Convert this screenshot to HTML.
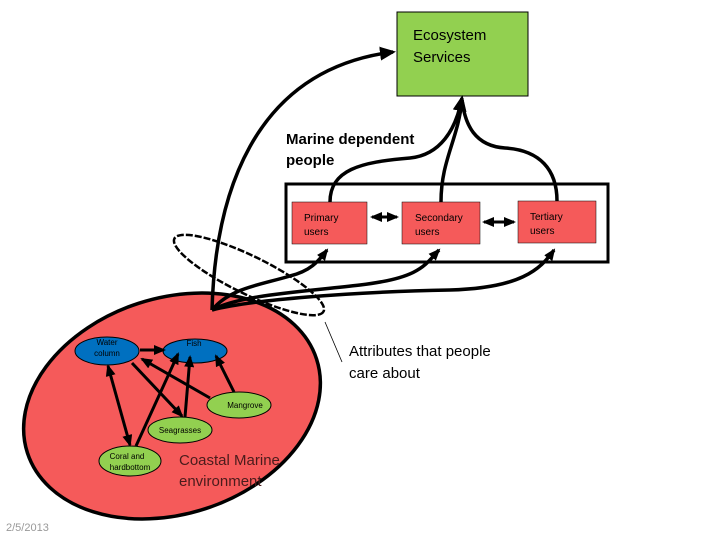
<!DOCTYPE html>
<html><head><style>
body{margin:0;background:#fff;}
svg text{font-family:"Liberation Sans",sans-serif;}
</style></head><body>
<svg width="720" height="540" viewBox="0 0 720 540" xmlns="http://www.w3.org/2000/svg">
<defs>
<marker id="a" markerWidth="12" markerHeight="10" refX="10" refY="5" orient="auto" markerUnits="userSpaceOnUse"><path d="M0,0 L12,5 L0,10 Z" fill="#000"/></marker>
<marker id="s" markerWidth="12" markerHeight="10" refX="2" refY="5" orient="auto" markerUnits="userSpaceOnUse"><path d="M12,0 L0,5 L12,10 Z" fill="#000"/></marker>
<marker id="b" markerWidth="16" markerHeight="14" refX="13" refY="7" orient="auto" markerUnits="userSpaceOnUse"><path d="M0,0 L16,7 L0,14 Z" fill="#000"/></marker>
</defs>
<ellipse cx="172" cy="406" rx="152" ry="108" transform="rotate(-18 172 406)" fill="#f55a5a" stroke="#000" stroke-width="3.5"/>
<rect x="397" y="12" width="131" height="84" fill="#92d050" stroke="#000" stroke-width="1"/>
<text x="413" y="40" font-size="15">Ecosystem</text>
<text x="413" y="62" font-size="15">Services</text>
<text x="286" y="144" font-size="15" font-weight="bold">Marine dependent</text>
<text x="286" y="165" font-size="15" font-weight="bold">people</text>
<rect x="286" y="184" width="322" height="78" fill="none" stroke="#000" stroke-width="3"/>
<rect x="292" y="202" width="75" height="42" fill="#f55a5a" stroke="#000" stroke-width="0.5"/>
<rect x="402" y="202" width="78" height="42" fill="#f55a5a" stroke="#000" stroke-width="0.5"/>
<rect x="518" y="201" width="78" height="42" fill="#f55a5a" stroke="#000" stroke-width="0.5"/>
<text x="304" y="221" font-size="10">Primary</text><text x="304" y="235" font-size="10">users</text>
<text x="415" y="221" font-size="10">Secondary</text><text x="415" y="235" font-size="10">users</text>
<text x="530" y="220" font-size="10">Tertiary</text><text x="530" y="234" font-size="10">users</text>
<g stroke="#000" stroke-width="3.5" fill="none">
<line x1="372" y1="217" x2="397" y2="217" marker-start="url(#s)" marker-end="url(#a)" stroke-width="3"/>
<line x1="484" y1="222" x2="514" y2="222" marker-start="url(#s)" marker-end="url(#a)" stroke-width="3"/>
<path d="M330,202 C330,170 360,162 410,158 C440,155 456,130 462,98" marker-end="url(#b)"/>
<path d="M441,202 C441,160 458,140 462,100"/>
<path d="M557,201 C557,170 540,150 505,148 C475,146 465,125 462,100"/>
<path d="M212,310 C215,200 250,70 393,52" marker-end="url(#b)"/>
<path d="M212,310 C230,288 260,285 290,276 C310,271 318,262 327,250" marker-end="url(#a)"/>
<path d="M212,310 C240,295 300,292 360,285 C420,278 425,265 439,250" marker-end="url(#a)"/>
<path d="M212,310 C250,300 350,292 450,290 C520,288 540,270 554,250" marker-end="url(#a)"/>
</g>
<ellipse cx="249" cy="275" rx="83" ry="19" transform="rotate(26 249 275)" fill="none" stroke="#000" stroke-width="2.5" stroke-dasharray="7,2"/>
<line x1="325" y1="322" x2="342" y2="362" stroke="#000" stroke-width="0.8"/>
<text x="349" y="356" font-size="15">Attributes that people</text>
<text x="349" y="378" font-size="15">care about</text>
<ellipse cx="107" cy="351" rx="32" ry="14" fill="#0070c0" stroke="#000" stroke-width="1"/>
<ellipse cx="195" cy="351" rx="32" ry="12" fill="#0070c0" stroke="#000" stroke-width="1"/>
<ellipse cx="239" cy="405" rx="32" ry="13" fill="#92d050" stroke="#000" stroke-width="1"/>
<ellipse cx="180" cy="430" rx="32" ry="13" fill="#92d050" stroke="#000" stroke-width="1"/>
<ellipse cx="130" cy="461" rx="31" ry="15" fill="#92d050" stroke="#000" stroke-width="1"/>
<g stroke="#000" stroke-width="3" fill="none">
<line x1="140" y1="350" x2="164" y2="350" marker-end="url(#a)"/>
<line x1="108" y1="366" x2="130" y2="445" marker-start="url(#s)" marker-end="url(#a)"/>
<line x1="136" y1="446" x2="178" y2="354" marker-end="url(#a)"/>
<line x1="185" y1="417" x2="190" y2="357" marker-end="url(#a)"/>
<line x1="182" y1="416" x2="132" y2="363" marker-start="url(#s)"/>
<line x1="210" y1="398" x2="142" y2="359" marker-end="url(#a)"/>
<line x1="234" y1="392" x2="216" y2="356" marker-end="url(#a)"/>
</g>
<g font-size="8" text-anchor="middle">
<text x="107" y="345">Water</text><text x="107" y="356">column</text>
<text x="194" y="346">Fish</text>
<text x="245" y="408">Mangrove</text>
<text x="180" y="433">Seagrasses</text>
<text x="127" y="459">Coral and</text><text x="130" y="470">hardbottom</text>
</g>
<text x="179" y="465" font-size="15" fill="#4a1c1c">Coastal Marine</text>
<text x="179" y="486" font-size="15" fill="#4a1c1c">environment</text>
<text x="6" y="531" font-size="11" fill="#999">2/5/2013</text>
</svg>
</body></html>
